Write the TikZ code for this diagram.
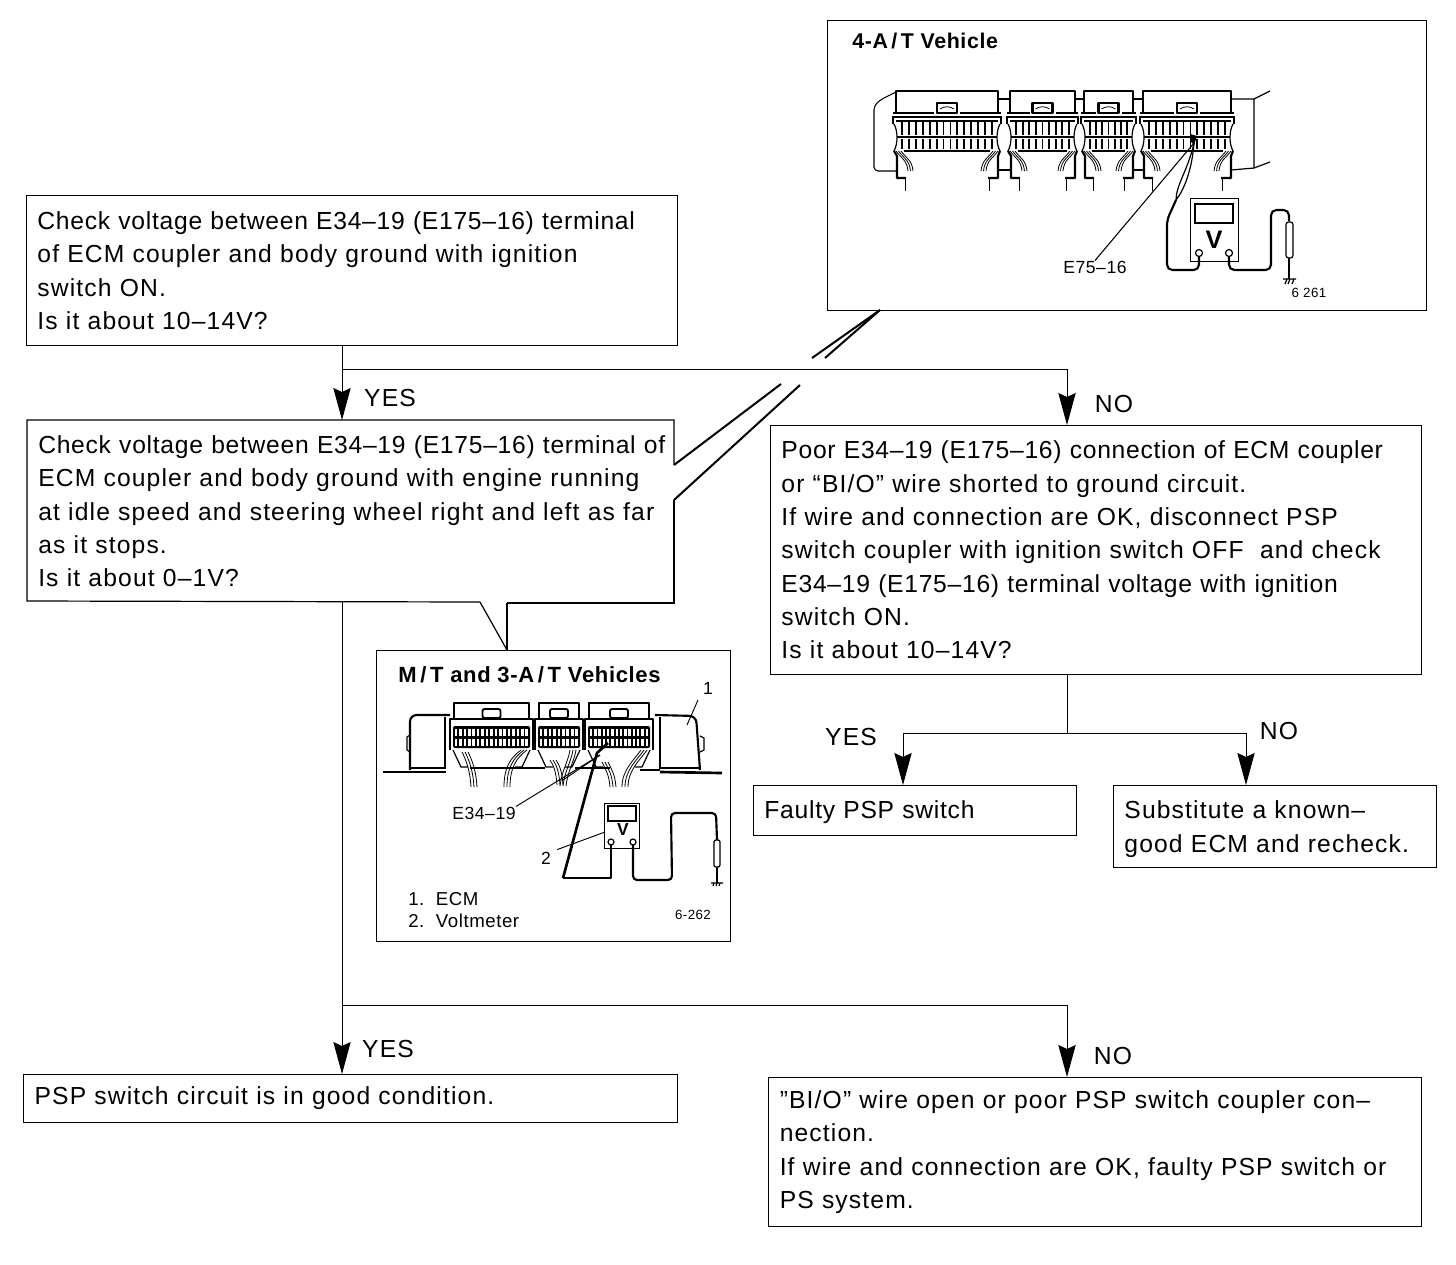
\documentclass[tikz,border=0pt]{standalone}
\usepackage{fontspec}
\setmainfont{Liberation Sans}
\newfontfamily\flowfont[LetterSpace=4.6]{Liberation Sans}
\newfontfamily\flowtight[LetterSpace=2.9]{Liberation Sans}
\newfontfamily\figfont[LetterSpace=3.0]{Liberation Sans}
\usetikzlibrary{arrows.meta}
\newcommand\tightline[1]{{\flowtight #1}}
\tikzset{
  flowbox/.style={draw,line width=.9pt,anchor=north west,inner xsep=8pt,inner ysep=0pt,align=left,font=\flowfont\fontsize{18.5}{25}\selectfont},
  answer/.style={font=\flowfont\fontsize{18.5}{25}\selectfont,inner sep=0pt},
  conn/.style={line width=.75pt},
  arrowed/.style={line width=.75pt,-{Stealth[length=24pt,width=13pt,inset=3pt]}},
  figtitle/.style={font=\figfont\bfseries\fontsize{16}{18}\selectfont,anchor=west,inner sep=0pt},
  figlabel/.style={font=\figfont\fontsize{13.2}{16}\selectfont,inner sep=0pt},
  figsmall/.style={font=\figfont\fontsize{10}{12}\selectfont,inner sep=0pt},
  callout/.style={line width=1.5pt},
  art/.style={line width=.9pt},
  artthin/.style={line width=.6pt},
  artthick/.style={line width=1.6pt,line join=round},
}
% connector block of the 4-A/T control unit
\newcommand\blockA[3]{% x1, x2, number of pin columns
  \pgfmathsetmacro\xa{#1}\pgfmathsetmacro\xb{#2}
  \pgfmathsetmacro\xm{(#1+#2)/2}
  \draw[artthick] (\xa,113) -- (\xa,91) -- (\xb,91) -- (\xb,113);
  \draw[line width=1.1pt] (\xa-3,113) -- (\xm-13,113) (\xm+13,113) -- (\xb+3,113);
  \draw[artthick,fill=white] (\xm-10,103) rectangle (\xm+10,113);
  \draw[artthin] (\xm-7,109) .. controls (\xm-3,106) and (\xm+3,106) .. (\xm+7,109);
  \draw[line width=1.4pt] (\xa-3,124) -- (\xa-3,117) -- (\xb+3,117) -- (\xb+3,124);
  \draw[line width=.9pt] (\xa,121) -- (\xb,121);
  \draw[line width=.8pt] (\xa+1,137) -- (\xb-1,137);
  \draw[artthick] (\xa+8,151) -- (\xb-8,151);
  \pgfmathsetmacro\stp{(#2-#1-12)/#3}
  \foreach \k in {0,...,#3}{
    \draw[line width=1.4pt] (\xa+6+\k*\stp,122) -- (\xa+6+\k*\stp,135);
    \draw[line width=1.4pt] (\xa+6+\k*\stp,139) -- (\xa+6+\k*\stp,149);
  }
  \draw[art] (\xa-2,124) .. controls (\xa+2,131) and (\xa+2,144) .. (\xa-2,151);
  \draw[art] (\xb+2,124) .. controls (\xb-2,131) and (\xb-2,144) .. (\xb+2,151);
  \draw[artthick] (\xa-2,151) -- (\xa+1,156) -- (\xa+1,178) -- (\xa+10,178);
  \draw[artthick] (\xb+2,151) -- (\xb,156) -- (\xb,178) -- (\xb-10,178);
  \foreach \d in {0,2.5,5}{
    \draw[artthin,fill=none] (\xa+\d,151) .. controls (\xa+5+\d,158) and (\xa+11+\d,160) .. (\xa+12+\d,171);
    \draw[artthin,fill=none] (\xb-\d,151) .. controls (\xb-5-\d,158) and (\xb-11-\d,160) .. (\xb-12-\d,171);
  }
  \draw[artthin] (\xa+9,178) -- (\xa+9,191);
  \draw[artthin] (\xb-9,178) -- (\xb-9,191);
}
% connector block of the M/T control unit
\newcommand\blockB[3]{% x1, x2, number of pin columns
  \pgfmathsetmacro\xa{#1}\pgfmathsetmacro\xb{#2}
  \pgfmathsetmacro\xm{(#1+#2)/2}
  \draw[artthick,line width=1.2pt] (\xa+4,718) -- (\xa+4,703) -- (\xb-4,703) -- (\xb-4,718);
  \draw[line width=1.4pt,fill=white,rounded corners=1.5pt] (\xm-9,709) rectangle (\xm+9,718);
  \draw[artthick,line width=2pt] (\xa,750) -- (\xa,719) -- (\xb,719) -- (\xb,750);
  \fill[rounded corners=1.5pt] (\xa+3,726) rectangle (\xb-3,748);
  \pgfmathsetmacro\stp{(#2-#1-8)/#3}
  \foreach \k in {1,...,#3}{
    \fill[white] (\xa+4+\k*\stp-\stp+.8,728.5) rectangle ++(\stp-1.8,7);
    \fill[white] (\xa+4+\k*\stp-\stp+.8,739) rectangle ++(\stp-1.8,7);
  }
  \draw[art] (\xa+3,750) -- (\xa+11,767) -- (\xa+18,767);
  \draw[art] (\xb-3,750) -- (\xb-11,767) -- (\xb-18,767);
}
\begin{document}
\begin{tikzpicture}[x=.75pt,y=-.75pt]
\useasboundingbox (0,0) rectangle (1456,1264);

% ---- flow boxes
\node[flowbox,minimum width=488.25pt,minimum height=112.5pt,text width=472pt] (check1) at (26,195)
  {\tightline{Check voltage between E34–19 (E175–16) terminal}\\of ECM coupler and body ground with ignition\\switch ON.\\Is it about 10–14V?\\[2pt]};
\node[flowbox,draw=none,minimum width=485.25pt,minimum height=136pt,text width=472pt] (check2) at (27,420)
  {\tightline{Check voltage between E34–19 (E175–16) terminal of}\\ECM coupler and body ground with engine running\\at idle speed and steering wheel right and left as far\\as it stops.\\Is it about 0–1V?};
\node[flowbox,minimum width=488.25pt,minimum height=186.75pt,text width=472pt] (poor) at (770,425)
  {\tightline{Poor E34–19 (E175–16) connection of ECM coupler}\\or “BI/O” wire shorted to ground circuit.\\If wire and connection are OK, disconnect PSP\\switch coupler with ignition switch OFF\ \ and check\\\tightline{E34–19 (E175–16) terminal voltage with ignition}\\switch ON.\\Is it about 10–14V?};
\node[flowbox,minimum width=242.25pt,minimum height=37.5pt,text width=226pt] (faulty) at (753,785)
  {\rule{0pt}{16pt}\tightline{Faulty PSP switch}};
\node[flowbox,minimum width=242.25pt,minimum height=61.5pt,text width=226pt] (subst) at (1113,785)
  {\rule{0pt}{17pt}Substitute a known–\\good ECM and recheck.};
\node[flowbox,minimum width=490.5pt,minimum height=36pt,text width=474pt] (good) at (23,1074)
  {PSP switch circuit is in good condition.};
\node[flowbox,minimum width=489.75pt,minimum height=111.75pt,text width=473pt] (open) at (768,1077)
  {”BI/O” wire open or poor PSP switch coupler con–\\nection.\\If wire and connection are OK, faulty PSP switch or\\PS system.};

% ---- frame of the second check box with its two call-outs
\draw[line width=.9pt] (674,465) -- (674,420) -- (27,420) -- (27,601) -- (480,602);
\draw[line width=.9pt] (507,603) -- (674,603) -- (674,500);
\draw[callout] (674,465) -- (781,384);
\draw[callout] (674,500) -- (800,385);
\draw[callout] (812,358) -- (880,310);
\draw[callout] (825,358) -- (880,310);
\draw[line width=.9pt] (480,602) -- (507,650);
\draw[line width=.9pt] (507,603) -- (507,650);

% ---- illustration boxes
\node[draw,line width=1pt,anchor=north west,minimum width=449.25pt,minimum height=217.5pt,inner sep=0pt] (figfour) at (827,20) {};
\node[draw,line width=.8pt,anchor=north west,minimum width=265.5pt,minimum height=218.25pt,inner sep=0pt] (figmt) at (376,650) {};

% ---- connectors
\coordinate (leftrun) at (342,369);
\coordinate (rightrun) at (1067,369);
\coordinate (split) at (1067,733);
\coordinate (splitL) at (903,733);
\coordinate (splitR) at (1246,733);
\coordinate (lowL) at (342,1005);
\coordinate (lowR) at (1067,1005);
\draw[conn] (check1.south -| leftrun) -- (leftrun) -- (rightrun);
\draw[arrowed] (leftrun) -- (check2.north -| leftrun);
\draw[arrowed] (rightrun) -- (poor.north -| rightrun);
\draw[conn] (poor.south -| split) -- (split);
\draw[conn] (splitL) -- (splitR);
\draw[arrowed] (splitL) -- (faulty.north -| splitL);
\draw[arrowed] (splitR) -- (subst.north -| splitR);
\draw[conn] (342,601) -- (lowL) -- (lowR);
\draw[arrowed] (lowL) -- (good.north -| lowL);
\draw[arrowed] (lowR) -- (open.north -| lowR);

% ---- answers
\node[answer] (yes1) at (390,398) {YES};
\node[answer] (no1) at (1114,404) {NO};
\node[answer] (yes2) at (851,737) {YES};
\node[answer] (no2) at (1279,731) {NO};
\node[answer] (yes3) at (388,1049) {YES};
\node[answer] (no3) at (1113,1056) {NO};

% ---- 4-A/T illustration
\node[figtitle] (titlefour) at (852,41) {4-A\,/\,T Vehicle};
\draw[line width=.8pt,rounded corners=3pt] (896,92) -- (880,100) -- (874,106) -- (874,171) -- (896,171);
\draw[art] (1231,99) -- (1254,99) -- (1270,91);
\draw[art] (1254,99) -- (1254,168) -- (1270,162);
\draw[art] (1254,168) -- (1231,170);
\draw[art] (998,99) -- (1010,99) (1075,99) -- (1084,99) (1133,99) -- (1143,99);
\draw[art] (998,170) -- (1010,170) (1133,170) -- (1143,170);
\blockA{896}{998}{13}
\blockA{1010}{1075}{8}
\blockA{1084}{1133}{6}
\blockA{1143}{1231}{11}
\fill (1190,134) -- (1197,136) -- (1194,145) -- (1190,141) -- cycle;
% leader and label
\node[figlabel] (e75) at (1095,267) {E75–16};
\draw[line width=.8pt] (1194,143) -- (e75.north);
% meter
\node[draw,line width=1.1pt,anchor=north west,minimum width=36pt,minimum height=47pt,inner sep=0pt] (meterfour) at (1190,198) {};
\draw[line width=.9pt] (1195,204) rectangle (1233,223);
\node[font=\figfont\bfseries\fontsize{19}{20}\selectfont,inner sep=0pt] (vfour) at (1214,240) {V};
\draw[art] (1199,253) circle (3.5) (1229,253) circle (3.5);
\draw[artthick,rounded corners=4pt] (1199,256) -- (1199,270) -- (1167,270) -- (1167,220) -- (1176,200);
\draw[art] (1176,200) .. controls (1176,185) and (1188,170) .. (1194,143);
\draw[art] (1176,200) .. controls (1184,190) and (1192,170) .. (1194,143);
\draw[artthick,rounded corners=4pt] (1229,256) -- (1229,270) -- (1271,270) -- (1271,210) -- (1289,210) -- (1289,221);
\draw[art,rounded corners=2pt] (1286,222) rectangle (1293,258);
\draw[art,line width=1.2pt] (1289,258) -- (1289,279);
\draw[art] (1283,279) -- (1296,279) (1285,284) -- (1287,279) (1288,284) -- (1290,279) (1292,284) -- (1294,279);
\node[figsmall] (codefour) at (1309,293) {6 261};

% ---- M/T illustration
\node[figtitle,font=\figfont\bfseries\fontsize{16.5}{18}\selectfont] (titlemt) at (398,675) {M\,/\,T and 3-A\,/\,T Vehicles};
\draw[line width=2pt] (383,772) -- (446,772);
\draw[line width=1.4pt] (470,768) -- (545,768) (575,768) -- (610,768) (640,770) -- (660,770);
\draw[line width=2pt] (660,772) -- (722,773);
\draw[artthick,rounded corners=5pt] (450,715) -- (410,715) -- (410,770);
\draw[art] (410,735) -- (407,737) -- (407,750) -- (410,752);
\draw[art] (445,717) -- (445,768) -- (411,768);
\draw[artthick,rounded corners=5pt] (655,715) -- (696,716) -- (700,770);
\draw[art] (700,736) -- (704,738) -- (704,750) -- (700,752);
\draw[art] (660,717) -- (660,768) -- (699,768);
\blockB{450}{533}{17}
\blockB{535}{583}{9}
\blockB{585}{653}{14}
% wires below the blocks
\foreach \d in {0,3,6}{
  \draw[artthin] (462+\d,752) .. controls (466+\d,760) and (470+\d,770) .. (471+\d,787);
  \draw[artthin] (527-\d,750) .. controls (516-\d,758) and (510-\d,768) .. (510-\d,787);
  \draw[artthin] (550+\d,760) .. controls (554+\d,766) and (556+\d,772) .. (557+\d,785);
  \draw[artthin] (576-\d,750) .. controls (574-\d,762) and (568-\d,770) .. (566-\d,786);
  \draw[artthin] (602+\d,762) .. controls (606+\d,770) and (609+\d,775) .. (610+\d,787);
  \draw[artthin] (647-\d,750) .. controls (640-\d,760) and (628-\d,770) .. (628-\d,787);
}
% leaders
\node[figlabel] (e34) at (484,813) {E34–19};
\draw[line width=.7pt] (e34.north east) -- (600,755);
\draw[line width=.7pt] (563,780) -- (600,755);
% meter
\node[draw,line width=1.1pt,anchor=north west,minimum width=26.25pt,minimum height=33.75pt,inner sep=0pt] (metermt) at (604,803) {};
\draw[line width=.8pt] (608,806) rectangle (636,821);
\node[font=\figfont\bfseries\fontsize{13}{14}\selectfont,inner sep=0pt] (vmt) at (623,830) {V};
\draw[art] (611,842) circle (3) (633,842) circle (3);
\coordinate (probetip) at (563,878);
\draw[artthick,line width=2pt] (608,743) -- (597,753) -- (probetip);
\draw[artthick] (probetip) -- (611,878) -- (611,845);
\draw[artthick,rounded corners=3pt] (633,845) -- (633,880) -- (672,880) -- (671,813) -- (716,813) -- (717,840);
\draw[art,rounded corners=1.5pt] (714,840) rectangle (720,867);
\draw[art] (717,867) -- (717,883);
\draw[art] (711,883) -- (723,883) (713,886) -- (714,883) (716,886) -- (717,883) (719,886) -- (720,883);
\node[figlabel] (two) at (546,858) {2};
\draw[line width=.7pt] (two.north east) ++(6,-2) -- (605,832);
\node[figlabel] (one) at (708,688) {1};
\draw[line width=.7pt] (698,700) -- (687,725);
\node[figlabel,anchor=west,font=\figfont\fontsize{14}{16}\selectfont] (legendone) at (408,899) {1.\ \ ECM};
\node[figlabel,anchor=west,font=\figfont\fontsize{14}{16}\selectfont] (legendtwo) at (408,921) {2.\ \ Voltmeter};
\node[figsmall] (codemt) at (693,915) {6-262};
\end{tikzpicture}
\end{document}
